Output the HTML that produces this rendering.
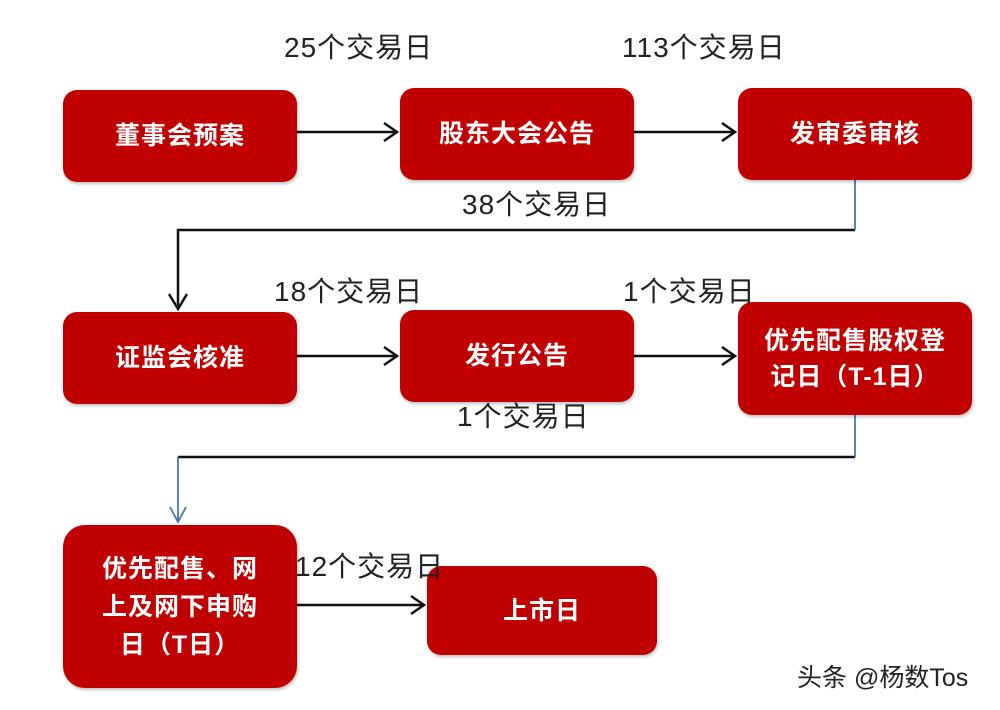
<!DOCTYPE html>
<html><head><meta charset="utf-8"><style>
body{margin:0;width:1000px;height:710px;background:#fff;position:relative;overflow:hidden;font-family:"Liberation Sans","Noto Sans CJK SC",sans-serif}
.b{position:absolute;background:#c00000;border-radius:14px;color:#fff;font-weight:bold;font-size:25px;letter-spacing:1px;display:flex;align-items:center;justify-content:center;text-align:center;line-height:36px;box-shadow:1px 2px 3px rgba(0,0,0,.25)}
.t{position:absolute;font-size:28px;letter-spacing:1px;color:#222;white-space:nowrap;line-height:30px}
svg{position:absolute;left:0;top:0}
</style></head><body>
<svg width="1000" height="710">
<g stroke="#111" stroke-width="2.5" fill="none">
<line x1="297" y1="132" x2="396" y2="132"/><polyline points="384,123 397,132 384,141"/>
<line x1="634" y1="132" x2="734" y2="132"/><polyline points="722,123 735,132 722,141"/>
<polyline points="855,230 178,230 178,308"/><polyline points="169,294 178,309 187,294"/>
<line x1="297" y1="356" x2="396" y2="356"/><polyline points="384,347 397,356 384,365"/>
<line x1="634" y1="356" x2="734" y2="356"/><polyline points="722,347 735,356 722,365"/>
<line x1="855" y1="457" x2="178" y2="457"/>
<line x1="297" y1="605" x2="423" y2="605"/><polyline points="411,596 424,605 411,614"/>
</g>
<g stroke="#4a76b0" stroke-width="1.8" fill="none">
<line x1="855" y1="180" x2="855" y2="230"/>
<line x1="855" y1="415" x2="855" y2="457"/>
<line x1="178" y1="457" x2="178" y2="521"/><polyline points="170,507 178,522 186,507"/>
</g>
</svg>
<div class="b" style="left:63px;top:90px;width:234px;height:92px">董事会预案</div>
<div class="b" style="left:400px;top:88px;width:234px;height:92px">股东大会公告</div>
<div class="b" style="left:738px;top:88px;width:234px;height:92px">发审委审核</div>
<div class="b" style="left:63px;top:312px;width:234px;height:92px">证监会核准</div>
<div class="b" style="left:400px;top:310px;width:234px;height:92px">发行公告</div>
<div class="b" style="left:738px;top:302px;width:234px;height:113px">优先配售股权登<br>记日（T-1日）</div>
<div class="b" style="left:63px;top:525px;width:234px;height:163px;border-radius:22px;line-height:38px">优先配售、网<br>上及网下申购<br>日（T日）</div>
<div class="b" style="left:427px;top:566px;width:230px;height:89px">上市日</div>
<div class="t" style="left:284px;top:33px">25个交易日</div>
<div class="t" style="left:622px;top:33px">113个交易日</div>
<div class="t" style="left:462px;top:190px">38个交易日</div>
<div class="t" style="left:274px;top:277px">18个交易日</div>
<div class="t" style="left:623px;top:277px">1个交易日</div>
<div class="t" style="left:457px;top:402px">1个交易日</div>
<div class="t" style="left:295px;top:552px">12个交易日</div>
<div class="t" style="left:797px;top:663px;font-size:25px;letter-spacing:0">头条 @杨数Tos</div>
</body></html>
